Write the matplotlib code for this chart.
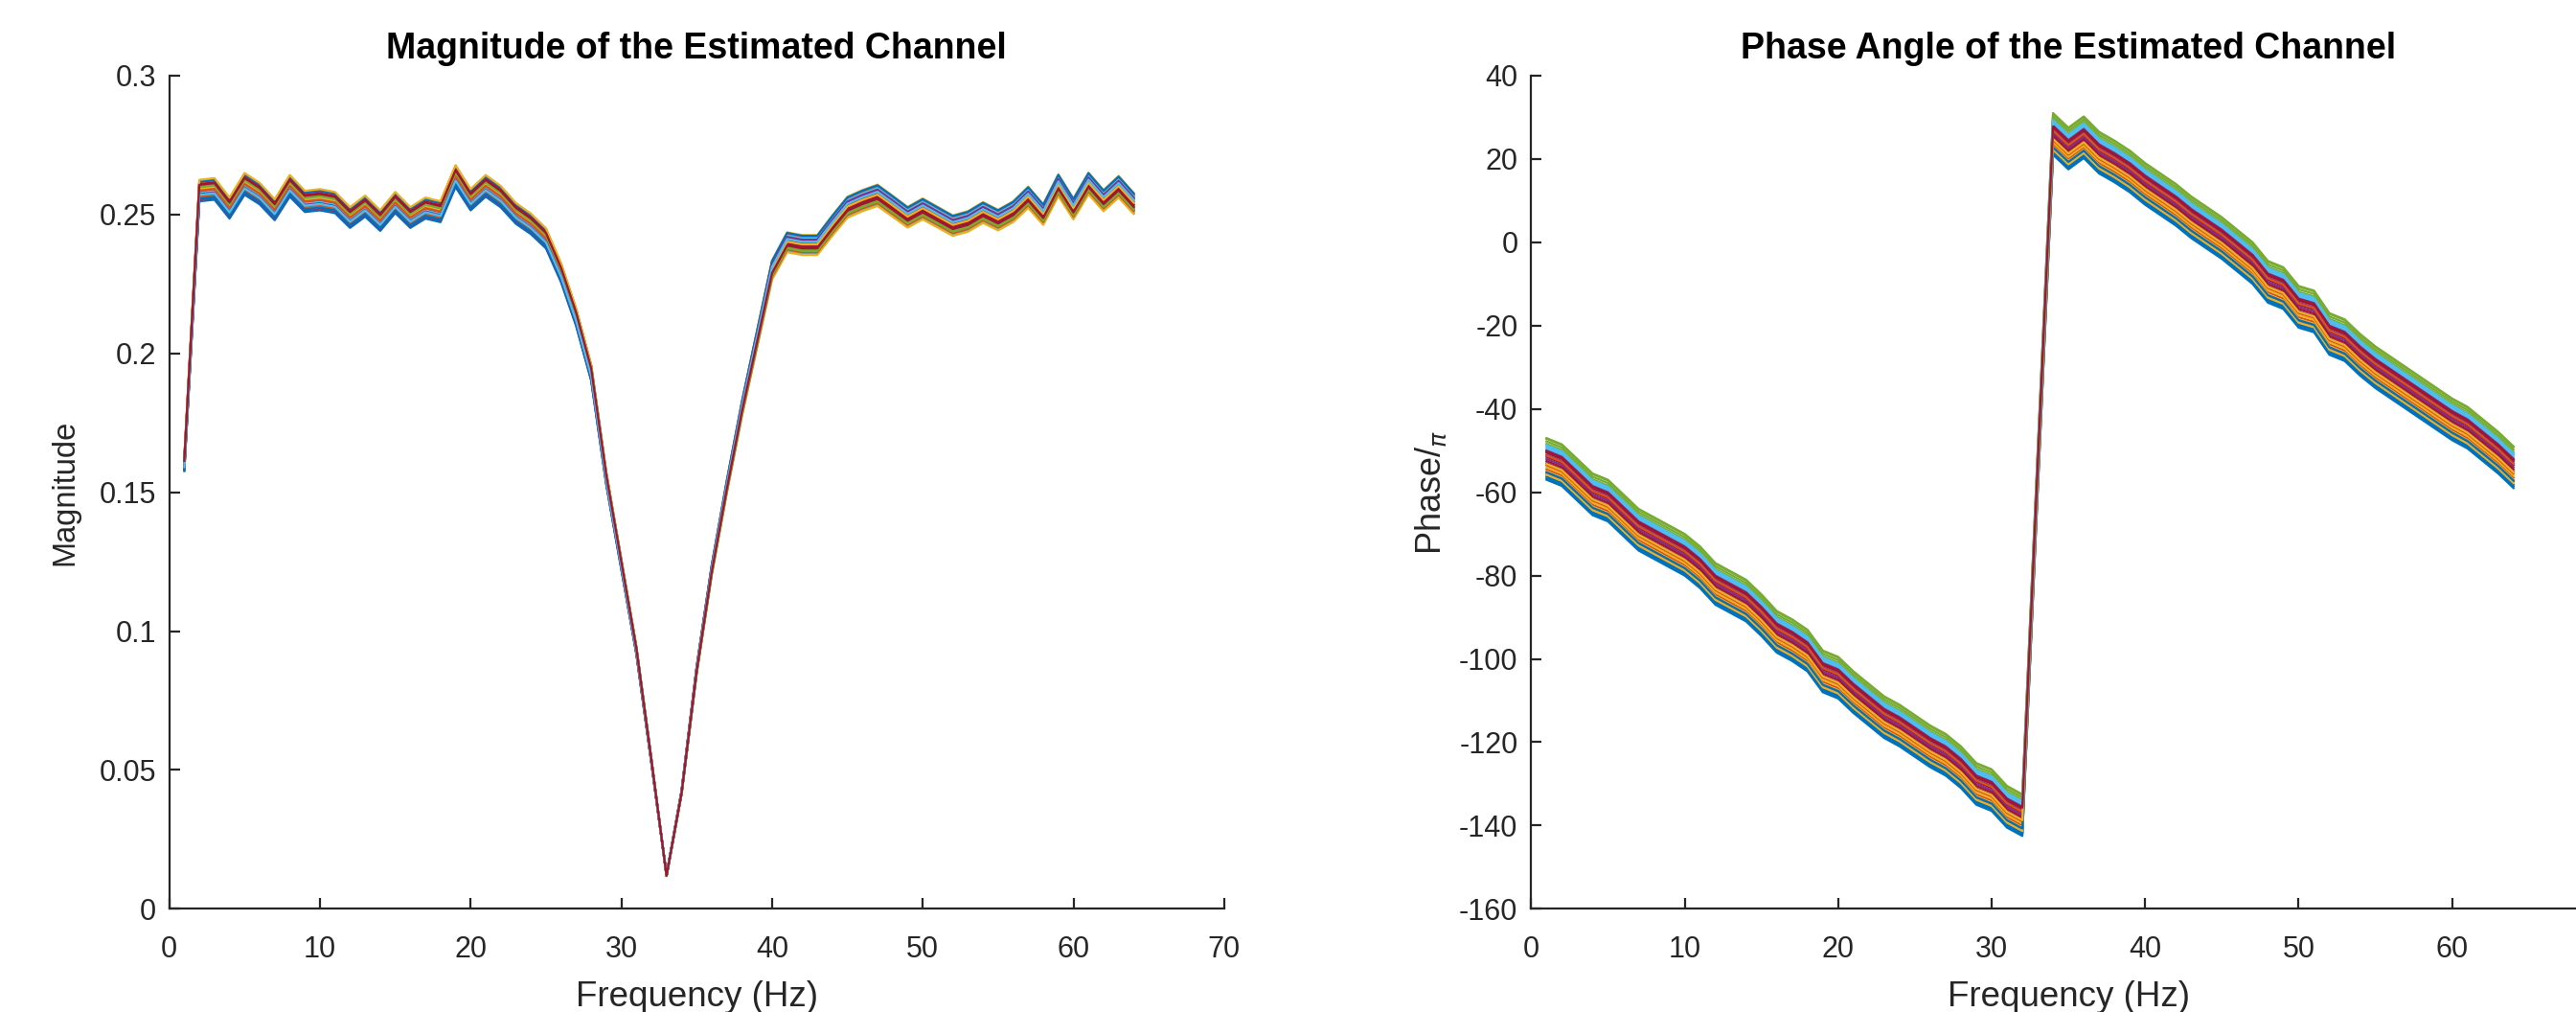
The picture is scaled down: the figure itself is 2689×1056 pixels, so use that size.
import matplotlib
matplotlib.use("Agg")
import matplotlib.pyplot as plt
import numpy as np

# frequency bins
freq = list(range(1, 65))

# centre of the magnitude bundle
mag_base = [0.160, 0.2586, 0.2592, 0.2523, 0.2610, 0.2575, 0.2517, 0.2603,
            0.2547, 0.2553, 0.2543, 0.2489, 0.2530, 0.2478, 0.2543, 0.2489,
            0.2523, 0.2510, 0.2638, 0.2553, 0.2603, 0.2564, 0.2504, 0.2466,
            0.2414, 0.229, 0.213, 0.193, 0.155, 0.124, 0.093, 0.053,
            0.012, 0.042, 0.086, 0.122, 0.152, 0.180, 0.205, 0.230,
            0.240, 0.239, 0.239, 0.246, 0.2526, 0.2550, 0.2569, 0.2530,
            0.2490, 0.2520, 0.2490, 0.2460, 0.2475, 0.2507, 0.2480, 0.2510,
            0.2562, 0.2500, 0.2606, 0.2520, 0.2612, 0.2550, 0.2600, 0.2540]

# centre of the phase bundle
phase_base = [-52.0, -53.5, -57.0, -60.5, -62.0, -65.5, -69.0, -71.0,
              -73.0, -75.0, -78.0, -82.0, -84.0, -86.0, -89.5, -93.5,
              -95.5, -98.0, -103.0, -104.5, -108.0, -111.0, -114.0, -116.0,
              -118.5, -121.0, -123.0, -126.0, -130.0, -131.5, -135.5, -137.5,
              -55.0, 26.0, 22.5, 25.2, 21.5, 19.4, 17.0, 14.0,
              11.5, 9.0, 6.0, 3.5, 1.0, -2.0, -5.0, -9.5,
              -11.0, -15.5, -16.6, -22.0, -23.5, -27.0, -30.0, -32.5,
              -35.0, -37.5, -40.0, -42.5, -44.5, -47.5, -50.5, -54.0]

# spread of the individual estimates around the centre (relative, low / high band)
mag_rel_low = [0.004, -0.013, 0.010, -0.002, 0.014, -0.007, 0.001,
               -0.015, 0.007, -0.004, 0.012, -0.009, 0.003, -0.001,
               0.013, -0.008, 0.002, -0.012, 0.006, -0.003, 0.009,
               -0.011, 0.000, 0.015, -0.005, 0.005, -0.006, 0.008]
mag_rel_high = [-0.010, 0.006, -0.003, 0.013, -0.014, 0.009, -0.006,
                0.011, -0.001, 0.015, -0.008, 0.004, -0.012, 0.007,
                -0.004, 0.012, -0.015, 0.002, -0.007, 0.010, -0.002,
                0.014, -0.011, 0.001, 0.008, -0.009, 0.005, -0.005]
phase_shift = [-5.0, -2.5, -3.0, -1.0, 4.8, 3.0, 0.5,
               -4.6, -3.5, -2.0, 0.0, 4.2, 2.2, 1.5,
               -4.2, -1.5, -3.8, 1.0, 3.6, 2.6, -0.5,
               -3.2, 0.8, -1.2, 2.0, 5.0, 3.3, 1.8]

matlab_colors = ['#0072BD', '#D95319', '#EDB120', '#7E2F8E',
                 '#77AC30', '#4DBEEE', '#A2142F']

plt.rcParams['font.family'] = ['Liberation Sans', 'DejaVu Sans']
plt.rcParams['axes.unicode_minus'] = False

fig = plt.figure(figsize=(26.89, 10.56), dpi=100)
ax1 = fig.add_axes([0.0657, 0.1019, 0.4095, 0.8234])
ax2 = fig.add_axes([0.5944, 0.1019, 0.4171, 0.8234])

f = np.array(freq)
mag_base = np.array(mag_base)
phase_base = np.array(phase_base)
for i in range(len(phase_shift)):
    c = matlab_colors[i % 7]
    rel = np.where(f <= 32, mag_rel_low[i], mag_rel_high[i])
    ax1.plot(freq, mag_base * (1 + rel), color=c, lw=1.6)
    ax2.plot(freq, phase_base + phase_shift[i], color=c, lw=1.6)

text_col = '#262626'
for ax in (ax1, ax2):
    ax.spines['top'].set_visible(False)
    ax.spines['right'].set_visible(False)
    for s in ('left', 'bottom'):
        ax.spines[s].set_linewidth(1.6)
        ax.spines[s].set_color(text_col)
    ax.tick_params(direction='in', length=8, width=1.6, colors=text_col,
                   labelsize=22, pad=10)
    ax.tick_params(axis='x', pad=20)
    ax.set_xlim(0, 70)
    ax.set_xticks(range(0, 71, 10))
    ax.set_xlabel('Frequency (Hz)', fontsize=26.5, color=text_col, labelpad=12)

ax1.set_ylim(0, 0.3)
ax1.set_yticks([0, 0.05, 0.1, 0.15, 0.2, 0.25, 0.3])
ax1.set_yticklabels(['0', '0.05', '0.1', '0.15', '0.2', '0.25', '0.3'])
ax1.set_ylabel('Magnitude', fontsize=23.5, color=text_col, labelpad=14)
ax1.set_title('Magnitude of the Estimated Channel', fontsize=27,
              fontweight='bold', pad=13)

ax2.set_ylim(-160, 40)
ax2.set_yticks(range(-160, 41, 20))
ax2.set_ylabel('Phase/$_{\\pi}$', fontsize=26, color=text_col, labelpad=8)
ax2.set_title('Phase Angle of the Estimated Channel', fontsize=27,
              fontweight='bold', pad=13)

fig.savefig('out.png', dpi=100)
